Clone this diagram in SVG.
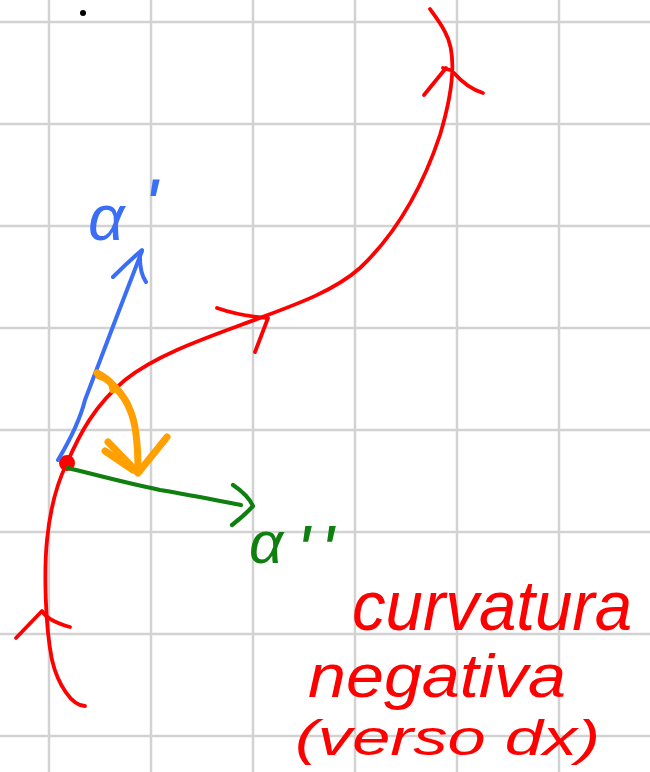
<svg xmlns="http://www.w3.org/2000/svg" width="650" height="772" viewBox="0 0 650 772">
<style>
.grid{stroke:#d2d2d2;stroke-width:2.5;fill:none}
.ink{fill:none;stroke-linecap:round;stroke-linejoin:round}
.red{stroke:#ff0000;stroke-width:3.8}
.blue{stroke:#3a6ef6;stroke-width:4}
.green{stroke:#0f7f0f;stroke-width:4.2}
.orange{stroke:#ff9f00;stroke-width:7}
.hand{font-family:"Liberation Sans","DejaVu Sans",sans-serif;font-style:italic}
</style>
<rect width="650" height="772" fill="#ffffff"/>
<g id="grid" class="grid">
<path d="M49 0V772M151 0V772M253 0V772M355 0V772M457 0V772M559 0V772"/>
<path d="M0 22H650M0 124H650M0 226H650M0 328H650M0 430H650M0 532H650M0 634H650M0 736H650"/>
</g>
<circle id="dot" cx="83" cy="13" r="3" fill="#000"/>
<g id="curve" class="ink red">
<path d="M85 706C72 706 58 685 52 660C45 625 44 570 47 540C50 510 56 485 67 463C80 433 95 405 125 380C160 352 215 335 265 316C300 303 335 290 360 268C400 230 425 180 440 135C452 95 458 55 445 32C440 22 434 15 430 9"/>
<path d="M424 95L446 68M443 68L450 70M454 73Q467 88 483 93"/>
<path d="M217 308Q240 316 268 318L255 352"/>
<path d="M16 638L42 611Q48 621 70 627"/>
</g>
<g id="point">
<circle cx="67" cy="463" r="8" fill="#ff0000"/>
</g>
<g id="connectors">
<g id="tangent" class="ink blue">
<path d="M58 460C70 440 80 420 85 400C100 360 125 295 142 251"/>
<path d="M113 277Q128 262 142 250M140 252Q139 272 146 282"/>
</g>
<g id="normal" class="ink green">
<path d="M68 468C100 476 130 484 160 490C190 495 215 500 241 505"/>
<path d="M233 485Q248 495 253 506Q245 515 232 525"/>
</g>
<g id="bend" class="ink orange">
<path d="M97 373C108 378 125 395 130 410C137 425 138 450 138 472"/>
<path d="M99 376Q113 380 113 390"/>
<path d="M108 442L138 473L167 437"/>
<path d="M105 451L133 470"/>
</g>
</g>
<g id="label-alpha1">
<text class="hand" x="88" y="240" font-size="64" fill="#3a6ef6">α<tspan x="143" y="232" font-size="76">'</tspan></text>
</g>
<g id="label-alpha2">
<text class="hand" x="249" y="563" font-size="60" fill="#0f7f0f">α<tspan x="296" y="576" font-size="72">'</tspan><tspan x="320" y="576" font-size="72">'</tspan></text>
</g>
<g id="note" class="hand" fill="#ff0000">
<text x="352" y="630" font-size="70" textLength="280" lengthAdjust="spacingAndGlyphs">curvatura</text>
<text x="308" y="697" font-size="62" textLength="258" lengthAdjust="spacingAndGlyphs">negativa</text>
<text x="295" y="755" font-size="50" textLength="305" lengthAdjust="spacingAndGlyphs">(verso dx)</text>
</g>
</svg>
